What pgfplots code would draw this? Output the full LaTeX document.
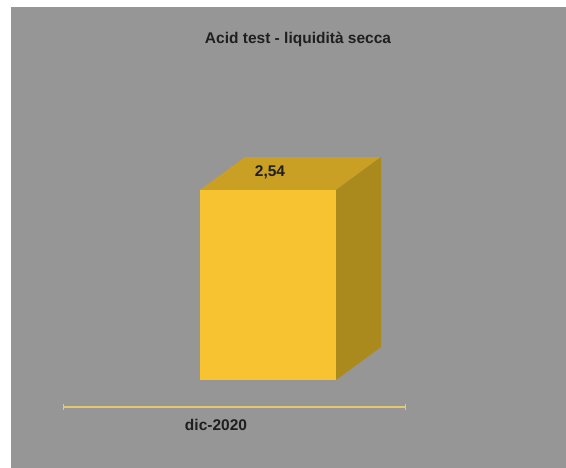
\documentclass[border=0pt]{standalone}
\usepackage{pgfplots}
\pgfplotsset{compat=1.18}
\usepackage{fontspec}
\setmainfont{Liberation Sans}
\definecolor{bggray}{RGB}{150,150,150}
\definecolor{front}{RGB}{247,195,48}
\definecolor{topc}{RGB}{201,160,36}
\definecolor{sidec}{RGB}{170,138,28}
\definecolor{axline}{RGB}{228,200,110}
\begin{document}
\begin{tikzpicture}
\fill[white] (0,0) rectangle (566pt,468pt);
\path[use as bounding box] (0,0) rectangle (566pt,468pt);
\begin{axis}[
  at={(11pt,0pt)}, anchor=south west,
  scale only axis, width=555pt, height=461pt,
  xmin=11, xmax=566,
  ymin=-1.1765, ymax=4.9866,
  axis line style={draw=none},
  xtick=\empty, ytick=\empty,
  axis background/.style={fill=bggray},
  clip=false,
]
% x axis line
\addplot[draw=axline, line width=1.6pt, forget plot] coordinates {(63,-0.361) (405,-0.361)};
\addplot[draw=axline, line width=0.8pt, forget plot] coordinates {(63,-0.32) (63,-0.40)};
\addplot[draw=axline, line width=0.8pt, forget plot] coordinates {(405,-0.32) (405,-0.40)};
% front face of the bar
\addplot[ybar, bar width=136, bar shift=0pt, fill=front, draw=none] coordinates {(268,2.54)};
% top face
\addplot[fill=topc, draw=none] coordinates {(200,2.54) (336,2.54) (381,2.981) (245,2.981)} -- cycle;
% right face
\addplot[fill=sidec, draw=none] coordinates {(336,0) (336,2.54) (381,2.981) (381,0.441)} -- cycle;
\node[font=\bfseries\fontsize{15.5}{18}\selectfont, color=black!88] at (axis cs:270,2.78) {2,54};
\node[font=\bfseries\fontsize{15.5}{18}\selectfont, color=black!88] at (axis cs:216,-0.60) {dic-2020};
\node[font=\bfseries\fontsize{15.5}{18}\selectfont, color=black!88] at (axis cs:298,4.55) {Acid test - liquidità secca};
\end{axis}
\end{tikzpicture}
\end{document}
